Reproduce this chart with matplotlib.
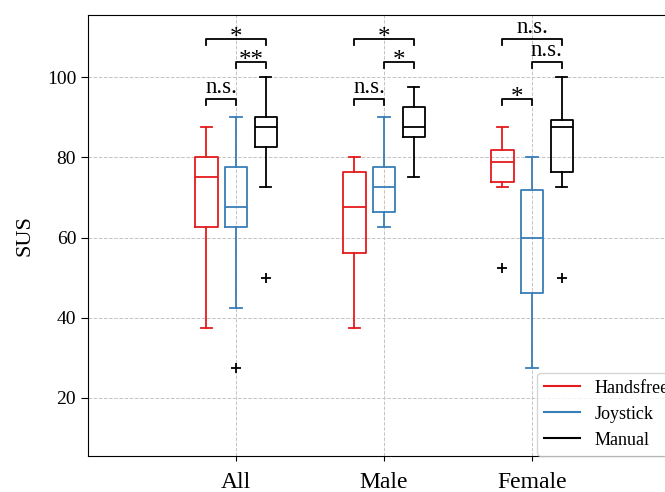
import numpy as np
import matplotlib
matplotlib.use("Agg")
import matplotlib.pyplot as plt
from matplotlib.lines import Line2D

plt.rcParams['font.family'] = ['Liberation Serif', 'DejaVu Serif']

groups = ["All", "Male", "Female"]
methods = ["Handsfree", "Joystick", "Manual"]
colors = ["#e41a1c", "#377eb8", "black"]

# box statistics, [group][method]
whislo = [[37.5, 42.5, 72.5], [37.5, 62.5, 75.0], [72.5, 27.5, 72.5]]
q1 = [[62.5, 62.5, 82.5], [56.25, 66.25, 85.0], [73.75, 46.25, 76.25]]
med = [[75.0, 67.5, 87.5], [67.5, 72.5, 87.5], [78.75, 60.0, 87.5]]
q3 = [[80.0, 77.5, 90.0], [76.25, 77.5, 92.5], [81.875, 71.875, 89.375]]
whishi = [[87.5, 90.0, 100.0], [80.0, 90.0, 97.5], [87.5, 80.0, 100.0]]
fliers = [[[], [27.5], [50.0]], [[], [], []], [[52.5], [], [50.0]]]

# significance brackets: (group, method a, method b, level, label)
sig = [
    (0, 0, 1, 94.5, "n.s."), (0, 1, 2, 103.75, "**"), (0, 0, 2, 109.5, "*"),
    (1, 0, 1, 94.5, "n.s."), (1, 1, 2, 103.75, "*"), (1, 0, 2, 109.5, "*"),
    (2, 0, 1, 94.5, "*"), (2, 1, 2, 103.75, "n.s."), (2, 0, 2, 109.5, "n.s."),
]

offsets = [-0.2, 0.0, 0.2]
width = 0.15

fig = plt.figure(figsize=(6.65, 4.92), dpi=100)
ax = fig.add_axes([88 / 665, 36 / 492, 592 / 665, 441 / 492])

for m in range(3):
    stats = []
    for g in range(3):
        stats.append(dict(whislo=whislo[g][m], q1=q1[g][m], med=med[g][m],
                          q3=q3[g][m], whishi=whishi[g][m], fliers=fliers[g][m]))
    pos = [g + 1 + offsets[m] for g in range(3)]
    c = colors[m]
    lw = 1.3
    ax.bxp(stats, positions=pos, widths=width, showfliers=True,
           boxprops=dict(color=c, linewidth=lw),
           whiskerprops=dict(color=c, linewidth=lw),
           capprops=dict(color=c, linewidth=lw),
           medianprops=dict(color=c, linewidth=lw),
           flierprops=dict(marker="+", markeredgecolor="black", markersize=7,
                           markeredgewidth=1.3, linestyle="none"),
           manage_ticks=False)

drop = 1.5
for g, a, b, h, txt in sig:
    x1 = g + 1 + offsets[a]
    x2 = g + 1 + offsets[b]
    ax.plot([x1, x1, x2, x2], [h - drop, h, h, h - drop], color="black", lw=1.3)
    if "*" in txt:
        ax.text((x1 + x2) / 2, h - 2.4, txt, ha="center", va="bottom", fontsize=18)
    else:
        ax.text((x1 + x2) / 2, h + 0.2, txt, ha="center", va="bottom", fontsize=16.5)

ax.set_xlim(0, 4)
ax.set_ylim(5.5, 115.5)
ax.set_xticks([1, 2, 3])
ax.set_xticklabels(groups, fontsize=17)
ax.tick_params(axis="x", pad=8)
ax.set_yticks([20, 40, 60, 80, 100])
ax.tick_params(axis="y", labelsize=14, length=5)
ax.set_ylabel("SUS", fontsize=16, labelpad=9)
ax.grid(True, linestyle="--", color="#c4c4c4", linewidth=0.7)
ax.set_axisbelow(True)

handles = [Line2D([], [], color=c, lw=1.5) for c in colors]
ax.legend(handles, methods, loc="lower left", bbox_to_anchor=((537 - 88) / 592, 0),
          fontsize=13, borderaxespad=0, handlelength=2.0)

fig.savefig("out.png", dpi=100)
